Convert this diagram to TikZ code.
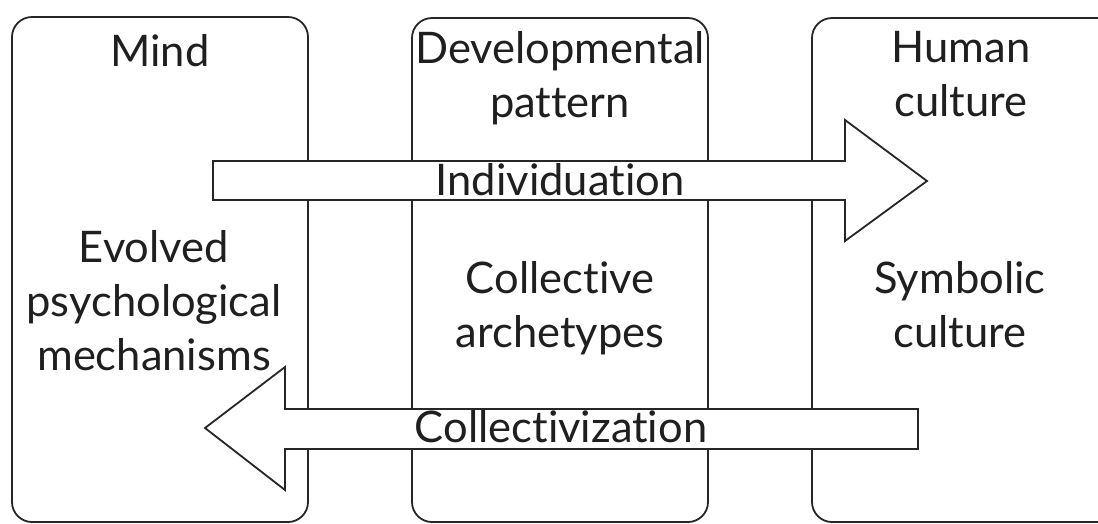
\documentclass[tikz,border=0pt]{standalone}
\usepackage{fontspec}
\setmainfont{Lato}[Ligatures={NoCommon,NoRequired}]
\begin{document}
\begin{tikzpicture}[x=1pt,y=-1pt,
  panel/.style={draw=black!85,line width=1.8pt,rounded corners=20pt},
  bigarrow/.style={draw=black!85,fill=white,line width=1.8pt,line join=miter},
  lbl/.style={font=\fontsize{43.5}{54}\selectfont,align=center,anchor=base,inner sep=0pt,text=black!88}]
\useasboundingbox (0,0) rectangle (1098,523);
\clip (0,0) rectangle (1098,523);
% panels
\draw[panel] (12,17) rectangle (308,522);
\draw[panel] (412,18) rectangle (708,522);
\draw[panel] (812,18) rectangle (1120,522);
% arrows
\draw[bigarrow] (213,161) -- (845,161) -- (845,120) -- (927,181) -- (845,241) -- (845,200) -- (213,200) -- cycle;
\draw[bigarrow] (918,409) -- (285,409) -- (285,367) -- (205,428) -- (285,490) -- (285,449) -- (918,449) -- cycle;
% labels (anchor=base is the baseline of the last line)
\node[lbl] (mind) at (160,66) {Mind};
\node[lbl] (dev) at (560,117) {Developmental\\pattern};
\node[lbl] (hum) at (961,116) {Human\\culture};
\node[lbl] (evo) at (154,370) {Evolved\\psychological\\mechanisms};
\node[lbl] (col) at (560,347) {Collective\\archetypes};
\node[lbl] (sym) at (960,347) {Symbolic\\culture};
\node[lbl] (ind) at (560,195) {Individuation};
\node[lbl] (clz) at (561,442) {Collectivization};
\end{tikzpicture}
\end{document}
